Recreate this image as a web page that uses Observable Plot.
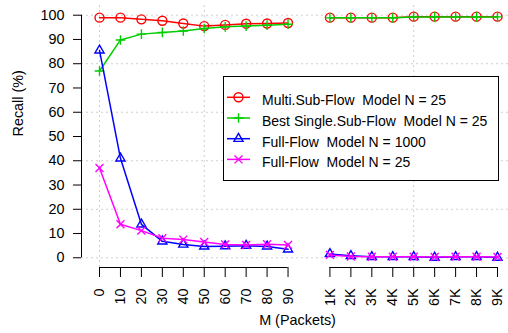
<!DOCTYPE html>
<html><head><meta charset="utf-8">
<script src="https://cdn.jsdelivr.net/npm/d3@7"></script>
<script src="https://cdn.jsdelivr.net/npm/@observablehq/plot@0.6"></script>
<style>
body{margin:0;background:#fff;font-family:"Liberation Sans",Arial,sans-serif;}
#wrap{position:relative;width:508px;height:333px;}
</style></head><body><div id="wrap"></div>
<script>
// ---- data ----
const xLabels = ["0","10","20","30","40","50","60","70","80","90","1K","2K","3K","4K","5K","6K","7K","8K","9K"];
const multiSub   = [99, 99, 98.3, 97.7, 96.6, 95.5, 96, 96.5, 96.6, 96.8, 99, 99, 99, 99, 99.4, 99.4, 99.4, 99.4, 99.4];
const bestSingle = [77, 89.8, 92.2, 92.9, 93.5, 94.5, 95.2, 95.5, 95.9, 96.3, 98.9, 98.9, 98.9, 98.9, 99.3, 99.3, 99.3, 99.3, 99.3];
const fullN1000  = [85.5, 41, 13.8, 6.8, 5.5, 4.7, 4.8, 5.0, 4.7, 3.5, 1.6, 0.8, 0.4, 0.4, 0.4, 0.1, 0.4, 0.4, 0.1];
const fullN25    = [37, 13.8, 11.2, 8.1, 7.5, 6.5, 5.5, 5.3, 5.6, 5.3, 1.2, 0.5, 0.4, 0.4, 0.4, 0.3, 0.4, 0.4, 0.3];
const seriesNames = ["Multi.Sub-Flow  Model N = 25", "Best Single.Sub-Flow  Model N = 25", "Full-Flow  Model N = 1000", "Full-Flow  Model N = 25"];
const seriesValues = [multiSub, bestSingle, fullN1000, fullN25];
const yTicks = [0,10,20,30,40,50,60,70,80,90,100];
const yGrid = [0,20,40,60,80,100];

// ---- styles ----
const seriesColors = ["#ff0000", "#00cd00", "#0000ff", "#ff00ff"];
const seriesSymbols = [d3.symbolCircle, d3.symbolPlus, d3.symbolTriangle, d3.symbolTimes];
const seriesR = [4.5, 3.2, 3.4, 3.7];

// positions: a one-slot gap between the packet counts and the K counts
const groupOf = l => l.endsWith("K") ? "k" : "n";
const pos = xLabels.map((l, i) => i + (groupOf(l) === "k" ? 1 : 0));
const tickRows = xLabels.map((l, i) => ({pos: pos[i], label: l}));
const xGrid = pos.filter(p => p % 5 === 0);
const segments = ["n","k"].map(g => {
  const ps = pos.filter((p, i) => groupOf(xLabels[i]) === g);
  return {x1: d3.min(ps), x2: d3.max(ps)};
});

const xDomain = [-0.86, 19.525];
const yDomain = [-4, 104];

const seriesMarks = seriesValues.flatMap((vals, s) => {
  const rows = vals.map((v, i) => ({pos: pos[i], v, grp: groupOf(xLabels[i])}));
  return [
    Plot.line(rows, {x: "pos", y: "v", z: "grp", stroke: seriesColors[s], strokeWidth: 1.5}),
    Plot.dot(rows, {x: "pos", y: "v", symbol: seriesSymbols[s], r: seriesR[s], stroke: seriesColors[s], fill: "none", strokeWidth: 1.4})
  ];
});

const chart = Plot.plot({
  width: 508, height: 333,
  marginLeft: 81, marginRight: 0, marginTop: 5, marginBottom: 66,
  style: {fontFamily: "'Liberation Sans', Arial, sans-serif", fontSize: "14.4px", background: "white", color: "black", overflow: "visible"},
  x: {domain: xDomain},
  y: {domain: yDomain},
  marks: [
    Plot.ruleY(yGrid, {stroke: "#cfcfcf", strokeDasharray: "2,3", strokeWidth: 1}),
    Plot.ruleX(xGrid, {stroke: "#cfcfcf", strokeDasharray: "2,3", strokeWidth: 1}),
    ...seriesMarks,
    Plot.ruleX([xDomain[0]], {y1: yTicks[0], y2: yTicks[yTicks.length - 1], stroke: "black"}),
    Plot.axisY({ticks: yTicks, tickSize: 8, tickPadding: 9, label: null, fontSize: 14.4}),
    Plot.ruleY(segments, {x1: "x1", x2: "x2", y: yDomain[0], stroke: "black"}),
    Plot.axisX({ticks: pos, tickSize: 10, tickFormat: () => "", label: null}),
    Plot.text(tickRows, {x: "pos", text: "label", frameAnchor: "bottom", dy: 21, rotate: -90, textAnchor: "end", lineAnchor: "middle", fontSize: 14.4}),
    Plot.text(["Recall (%)"], {frameAnchor: "left", dx: -63, rotate: -90, text: d => d, fontSize: 14.4}),
    Plot.text(["M (Packets)"], {frameAnchor: "bottom", dy: 57, dx: 2.5, text: d => d, fontSize: 14.4})
  ]
});
document.getElementById("wrap").appendChild(chart);

// ---- legend (overlay inside the plot area) ----
const leg = d3.select("#wrap").append("svg")
  .attr("width", 508).attr("height", 333)
  .style("position", "absolute").style("left", "0px").style("top", "0px");
leg.append("rect").attr("x", 223.5).attr("y", 76.5).attr("width", 275).attr("height", 104)
  .attr("fill", "white").attr("stroke", "black").attr("stroke-width", 1);
seriesNames.forEach((name, i) => {
  const cy = 97.3 + i * 20.7;
  leg.append("line").attr("x1", 227).attr("x2", 250).attr("y1", cy).attr("y2", cy)
    .attr("stroke", seriesColors[i]).attr("stroke-width", 1.5);
  leg.append("path").attr("d", d3.symbol(seriesSymbols[i], Math.PI * seriesR[i] * seriesR[i])())
    .attr("transform", `translate(238.5,${cy})`)
    .attr("fill", "none").attr("stroke", seriesColors[i]).attr("stroke-width", 1.4);
  leg.append("text").attr("x", 262).attr("y", cy + 8)
    .attr("font-family", "'Liberation Sans', Arial, sans-serif").attr("font-size", 14)
    .attr("xml:space", "preserve").style("white-space", "pre")
    .text(name);
});
</script>
</body></html>
